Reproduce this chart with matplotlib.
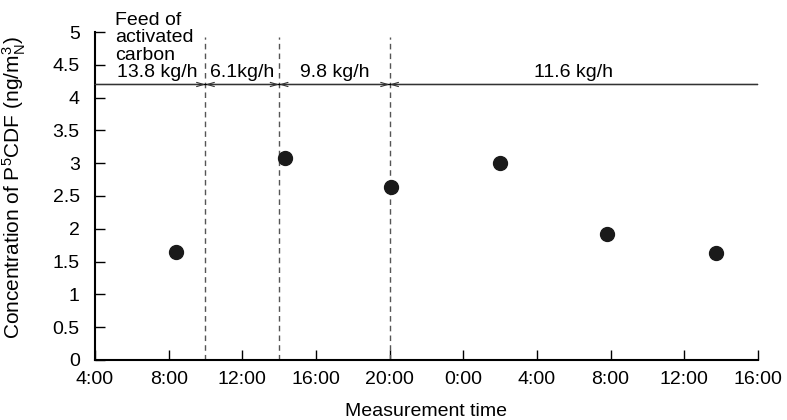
import matplotlib.pyplot as plt

plt.rcParams['font.family'] = ['Liberation Sans', 'DejaVu Sans']

# ## Data
# measurement times, hours counted from 0:00 of the first day
meas_hours = [8.4, 14.3, 20.1, 26.0, 31.8, 37.75]
p5cdf = [1.65, 3.08, 2.63, 3.0, 1.92, 1.63]

# activated-carbon feed periods (start/end hours) and rates
feed_edges = [4, 10, 14, 20, 40]
feed_labels = ['13.8 kg/h', '6.1kg/h', '9.8 kg/h', '11.6 kg/h']
feed_level = 4.2

xticks = [4, 8, 12, 16, 20, 24, 28, 32, 36, 40]
xticklabels = ['4:00', '8:00', '12:00', '16:00', '20:00',
               '0:00', '4:00', '8:00', '12:00', '16:00']
yticks = [0, 0.5, 1, 1.5, 2, 2.5, 3, 3.5, 4, 4.5, 5]
yticklabels = ['0', '0.5', '1', '1.5', '2', '2.5', '3', '3.5', '4', '4.5', '5']

FS = 14

fig = plt.figure(figsize=(7.87, 4.2), dpi=100)
ax = fig.add_axes([0.1207, 0.1429, 0.8423, 0.7809])

ax.plot(meas_hours, p5cdf, 'o', color='#1a1a1a', markersize=10, zorder=5)

# dashed lines at feed changes
for xe in feed_edges[1:-1]:
    ax.vlines(xe, 0, 4.92, colors='#555555', linestyles=(0, (4, 3)), linewidth=1)

# feed level line with arrows
ax.hlines(feed_level, feed_edges[0], feed_edges[-1], colors='black', linewidth=1)
for i, lab in enumerate(feed_labels):
    x0, x1 = feed_edges[i], feed_edges[i + 1]
    if i == 0:
        style = '->'
    elif i == len(feed_labels) - 1:
        style = '<-'
    else:
        style = '<->'
    ax.annotate('', xy=(x1, feed_level), xytext=(x0, feed_level),
                arrowprops=dict(arrowstyle=style + ',head_length=0.5,head_width=0.15',
                                color='#333333', lw=0.8, shrinkA=0, shrinkB=0))
    ax.text((x0 + x1) / 2 + (0.4 if i == 0 else 0), feed_level + 0.11, lab,
            ha='center', va='baseline', fontsize=FS)

ax.text(5.1, 5.31, 'Feed of\nactivated\ncarbon', ha='left', va='top',
        fontsize=FS, linespacing=1.05, clip_on=False)

ax.set_xlim(4, 40)
ax.set_ylim(0, 5)
ax.set_xticks(xticks)
ax.set_xticklabels(xticklabels)
ax.set_yticks(yticks)
ax.set_yticklabels(yticklabels)
ax.tick_params(direction='in', length=7, width=1, labelsize=FS, colors='black')
ax.tick_params(axis='x', pad=8)
ax.tick_params(axis='y', pad=11)

for s in ['top', 'right']:
    ax.spines[s].set_visible(False)
for s in ['left', 'bottom']:
    ax.spines[s].set_linewidth(1.5)

ax.set_xlabel('Measurement time', fontsize=FS)
ax.xaxis.set_label_coords(0.5, -0.13)
ax.set_ylabel(r'Concentration of P$\mathregular{^5}$CDF (ng/m$\mathregular{^3_N}$)',
              fontsize=15)
ax.yaxis.set_label_coords(-0.101, 0.524)

fig.savefig('out.png', dpi=100)
